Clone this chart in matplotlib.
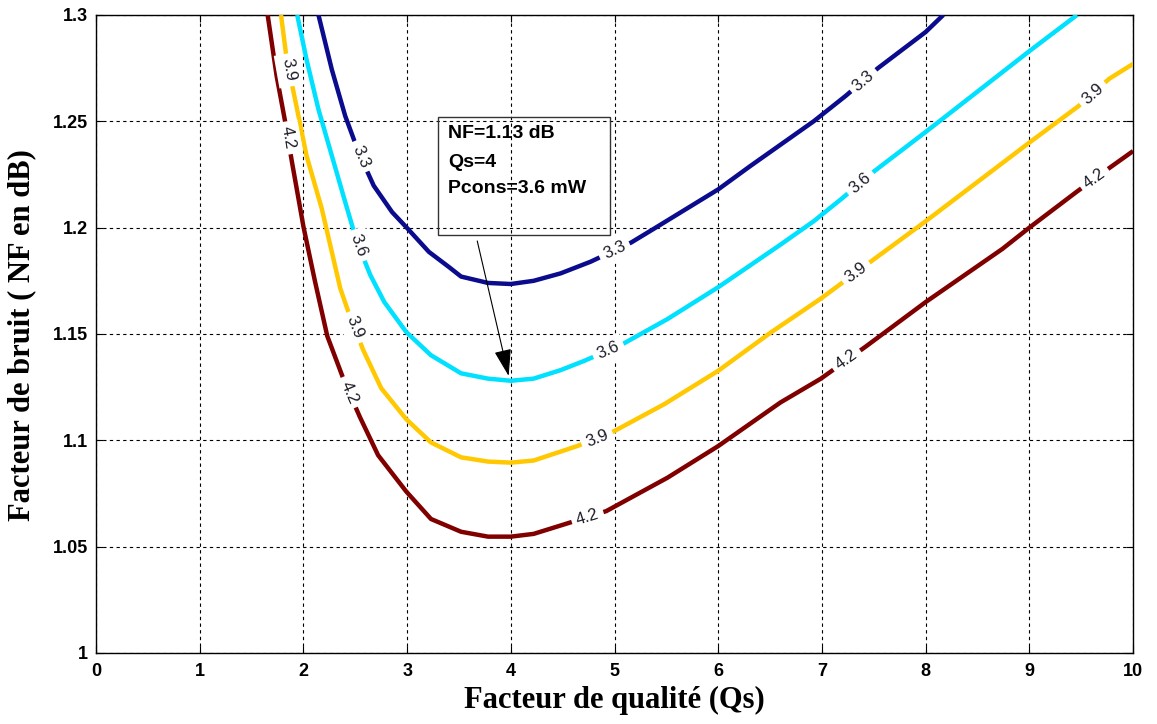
import numpy as np
import matplotlib
matplotlib.use('Agg')
import matplotlib.pyplot as plt
from matplotlib.patches import Rectangle

# ---------------------------------------------------------------
# NF contours vs Qs, one curve per consumed power (mW)
# ---------------------------------------------------------------
levels = [3.3, 3.6, 3.9, 4.2]
colors = ['#0b0b8e', '#00e0ff', '#ffc800', '#800000']

qs_33 = [2.145, 2.274, 2.403, 2.532, 2.677, 2.855, 3.0, 3.21, 3.40, 3.52,
         3.78, 4.0, 4.22, 4.48, 4.77, 5.16, 5.38, 6.0, 6.31, 6.92, 7.23,
         7.54, 8.0, 8.17]
nf_33 = [1.300, 1.2743, 1.2525, 1.2354, 1.2198, 1.2073, 1.1998, 1.1886,
         1.1816, 1.177, 1.174, 1.1735, 1.175, 1.1785, 1.184, 1.193, 1.1995,
         1.218, 1.229, 1.250, 1.262, 1.275, 1.292, 1.300]

qs_36 = [1.94, 2.03, 2.145, 2.274, 2.403, 2.516, 2.645, 2.78, 2.99, 3.23,
         3.52, 3.78, 4.0, 4.22, 4.48, 4.71, 5.08, 5.51, 6.0, 6.60, 6.92, 7.2,
         7.49, 8.0, 8.29, 9.0, 9.46]
nf_36 = [1.300, 1.279, 1.2556, 1.2338, 1.212, 1.1933, 1.1777, 1.165, 1.151,
         1.140, 1.1315, 1.129, 1.128, 1.129, 1.133, 1.1374, 1.1453, 1.157,
         1.172, 1.192, 1.203, 1.214, 1.226, 1.245, 1.256, 1.283, 1.300]

qs_39 = [1.784, 1.839, 1.913, 2.03, 2.177, 2.355, 2.45, 2.576, 2.75, 2.99,
         3.23, 3.52, 3.78, 4.0, 4.22, 4.48, 4.64, 5.0, 5.48, 6.0, 6.51, 7.0,
         7.47, 8.0, 9.0, 9.47, 9.77, 10.0]
nf_39 = [1.300, 1.279, 1.2618, 1.2338, 1.2089, 1.1715, 1.158, 1.1425, 1.1245,
         1.110, 1.099, 1.092, 1.090, 1.0895, 1.0905, 1.0947, 1.0973, 1.1044,
         1.117, 1.1327, 1.1508, 1.167, 1.184, 1.203, 1.240, 1.257, 1.270,
         1.277]

qs_42 = [1.655, 1.742, 1.823, 1.887, 2.0, 2.112, 2.23, 2.40, 2.544, 2.72,
         2.99, 3.23, 3.52, 3.78, 4.0, 4.22, 4.51, 4.92, 5.51, 6.0, 6.60, 6.99,
         7.42, 8.0, 8.74, 9.0, 9.46, 9.77, 10.0]
nf_42 = [1.300, 1.2712, 1.250, 1.2315, 1.2005, 1.1746, 1.149, 1.127, 1.111,
         1.093, 1.076, 1.063, 1.057, 1.0547, 1.0547, 1.056, 1.0604, 1.0667,
         1.0824, 1.0973, 1.1178, 1.129, 1.144, 1.165, 1.190, 1.200, 1.217,
         1.228, 1.236]

curves = [(qs_33, nf_33), (qs_36, nf_36), (qs_39, nf_39), (qs_42, nf_42)]

# where the inline level labels sit (Qs values)
label_qs = [[2.55, 5.0, 7.40],
            [2.53, 4.94, 7.37],
            [1.86, 2.49, 4.83, 7.33, 9.61],
            [1.85, 2.44, 4.74, 7.24, 9.63]]

xticks = np.arange(0, 11, 1)
yticks = [1, 1.05, 1.1, 1.15, 1.2, 1.25, 1.3]
ytick_labels = ['1', '1.05', '1.1', '1.15', '1.2', '1.25', '1.3']

# annotation of the chosen point
pt_qs, pt_nf = 3.985, 1.129
note_lines = ['NF=1.13 dB', 'Qs=4', 'Pcons=3.6 mW']

# ---------------------------------------------------------------
fig = plt.figure(figsize=(11.57, 7.24), dpi=100)
ax = fig.add_axes([0.0830, 0.0981, 0.8963, 0.8812])

ax.set_xlim(0, 10)
ax.set_ylim(1, 1.3)
ax.set_xticks(xticks)
ax.set_yticks(yticks)
ax.set_yticklabels(ytick_labels)
ax.tick_params(direction='in', top=True, right=True, length=5, width=0.8,
               labelsize=13)
ax.tick_params(axis='x', pad=7)
ax.tick_params(axis='y', pad=6)
for lab in ax.get_xticklabels() + ax.get_yticklabels():
    lab.set_fontfamily('Liberation Sans')
    lab.set_fontweight('bold')
ax.grid(True, color='k', linestyle=(0, (3, 3)), linewidth=0.8)
for sp in ax.spines.values():
    sp.set_linewidth(1.0)

for (q, nf), c in zip(curves, colors):
    ax.plot(q, nf, color=c, lw=3.2, solid_capstyle='butt',
            solid_joinstyle='round', zorder=3)

# inline labels, rotated along the curve
for (q, nf), lev, xs in zip(curves, levels, label_qs):
    q = np.asarray(q)
    nf = np.asarray(nf)
    for xl in xs:
        yl = np.interp(xl, q, nf)
        p0 = ax.transData.transform((xl - 0.05, np.interp(xl - 0.05, q, nf)))
        p1 = ax.transData.transform((xl + 0.05, np.interp(xl + 0.05, q, nf)))
        ang = np.degrees(np.arctan2(p1[1] - p0[1], p1[0] - p0[0]))
        ax.text(xl, yl, '%.1f' % lev, rotation=ang, rotation_mode='anchor',
                ha='center', va='center', fontsize=12,
                family='Liberation Sans', color='#1c1c28', zorder=4,
                bbox=dict(boxstyle='square,pad=0.3', fc='white', ec='none'))

# text box and arrow
ax.add_patch(Rectangle((3.30, 1.1965), 1.657, 0.0554, fill=False,
                       ec='#333333', lw=1.0, zorder=5))
for s, yy in zip(note_lines, [1.2445, 1.2305, 1.2185]):
    ax.text(3.394, yy, s, ha='left', va='center',
            fontsize=14, fontweight='bold', family='Liberation Sans',
            zorder=5)
ax.annotate('', xy=(pt_qs, pt_nf), xytext=(3.67, 1.195),
            arrowprops=dict(arrowstyle='-|>,head_length=1.2,head_width=0.38',
                            color='k', lw=0.8, mutation_scale=14),
            zorder=6)

ax.set_xlabel('Facteur de qualité (Qs)', fontsize=22, fontweight='bold',
              family='Liberation Serif')
ax.set_ylabel('Facteur de bruit ( NF en dB)', fontsize=22, fontweight='bold',
              family='Liberation Serif')
ax.xaxis.set_label_coords(0.5, -0.052)
ax.yaxis.set_label_coords(-0.058, 0.498)

fig.savefig('out.png', dpi=100)
